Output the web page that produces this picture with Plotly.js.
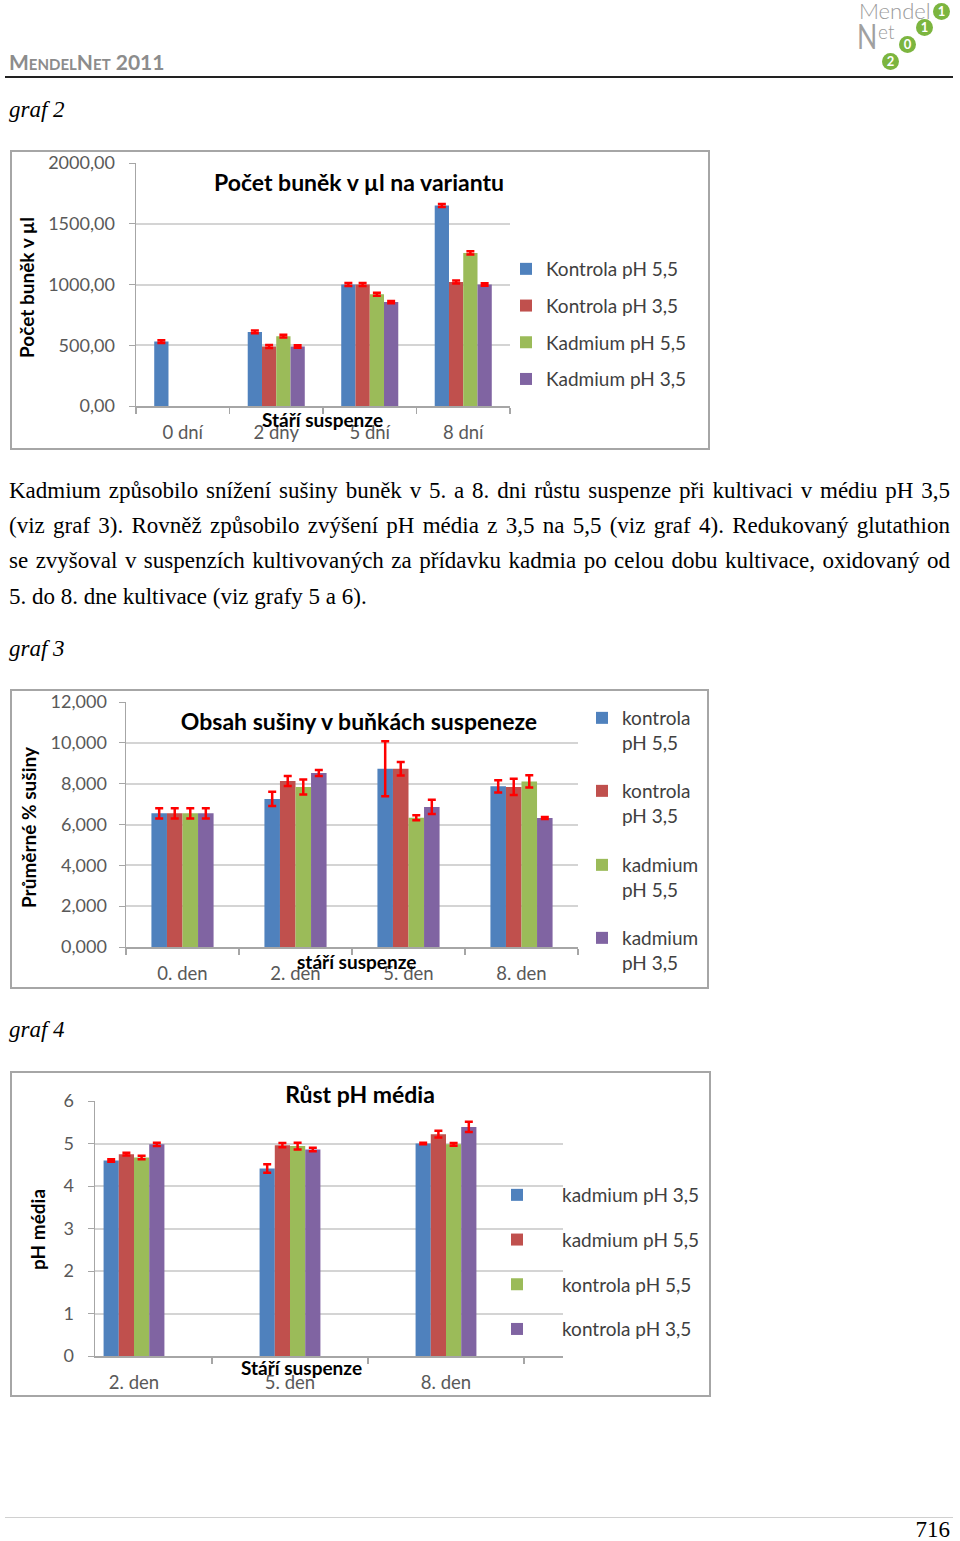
<!DOCTYPE html>
<html><head><meta charset="utf-8">
<script src="https://cdn.plot.ly/plotly-3.0.1.min.js"></script>
<style>
body{margin:0;width:960px;height:1541px;position:relative;background:#fff;overflow:hidden;font-family:'Liberation Serif','Times New Roman',serif;color:#000;}
.abs{position:absolute;white-space:nowrap;}
.frame{position:absolute;border:2px solid #a6a6a6;box-sizing:border-box;pointer-events:none;}
.para{position:absolute;left:9px;width:941px;font-size:23px;line-height:26px;text-align:justify;text-align-last:justify;white-space:nowrap;}
.graf{position:absolute;left:9px;font-size:23px;line-height:26px;font-style:italic;}
.circ{position:absolute;width:17px;height:17px;border-radius:50%;background:#7cb53f;color:#fff;font:bold 13px Lato,sans-serif;line-height:17px;text-align:center;}
</style></head><body>

<div class="abs" style="left:9px;top:50px;font:bold 21px Lato,sans-serif;font-variant:small-caps;color:#8c8c8c;line-height:24px;">MendelNet 2011</div>
<div class="abs" style="left:5px;top:76px;width:948px;height:2px;background:#222;"></div>

<div class="abs" style="left:859px;top:-1px;font:300 22px Lato,sans-serif;color:#9a9a9a;line-height:24px;">Mendel</div>
<div class="circ" style="left:933px;top:3px;">1</div>
<div class="abs" style="left:857px;top:19px;font:400 34px Lato,sans-serif;color:#a0a0a0;line-height:34px;transform:scaleX(0.78);transform-origin:left top;">N</div>
<div class="abs" style="left:878px;top:22px;font:300 19px Lato,sans-serif;color:#9a9a9a;line-height:20px;">et</div>
<div class="circ" style="left:916px;top:19px;">1</div>
<div class="circ" style="left:899px;top:36px;">0</div>
<div class="circ" style="left:882px;top:53px;">2</div>

<div class="graf" style="top:97px;">graf 2</div>
<div id="g2" class="abs" style="left:10px;top:150px;width:700px;height:300px;"></div>
<div class="frame" style="left:10px;top:150px;width:700px;height:300px;"></div>

<div class="para" style="top:478px;">Kadmium způsobilo snížení sušiny buněk v 5. a 8. dni růstu suspenze při kultivaci v médiu pH 3,5</div>
<div class="para" style="top:513px;">(viz graf 3). Rovněž způsobilo zvýšení pH média z 3,5 na 5,5 (viz graf 4). Redukovaný glutathion</div>
<div class="para" style="top:548px;">se zvyšoval v suspenzích kultivovaných za přídavku kadmia po celou dobu kultivace, oxidovaný od</div>
<div class="para" style="top:584px;text-align:left;text-align-last:left;">5. do 8. dne kultivace (viz grafy 5 a 6).</div>

<div class="graf" style="top:636px;">graf 3</div>
<div id="g3" class="abs" style="left:10px;top:689px;width:699px;height:300px;"></div>
<div class="frame" style="left:10px;top:689px;width:699px;height:300px;"></div>

<div class="graf" style="top:1017px;">graf 4</div>
<div id="g4" class="abs" style="left:10px;top:1071px;width:701px;height:326px;"></div>
<div class="frame" style="left:10px;top:1071px;width:701px;height:326px;"></div>

<div class="abs" style="left:5px;top:1517px;width:948px;height:1px;background:#d0d0d0;"></div>
<div class="abs" style="left:880px;top:1517px;width:70px;text-align:right;font-size:23px;line-height:26px;">716</div>

<script>
// ---------- graf 2 data ----------
const cats2 = ['0 dní', '2 dny', '5 dní', '8 dní'];
const names2 = ['Kontrola pH 5,5', 'Kontrola pH 3,5', 'Kadmium pH 5,5', 'Kadmium pH 3,5'];
const kontrola55_2 = [530, 610, 1000, 1650];
const kontrola35_2 = [null, 490, 1000, 1020];
const kadmium55_2 = [null, 575, 920, 1260];
const kadmium35_2 = [null, 490, 855, 1000];
const err_k55_2 = [12, 12, 12, 12];
const err_k35_2 = [null, 12, 12, 12];
const err_c55_2 = [null, 12, 12, 14];
const err_c35_2 = [null, 10, 10, 10];
const yTicks2 = [0, 500, 1000, 1500, 2000];

// ---------- graf 3 data ----------
const cats3 = ['0. den', '2. den', '5. den', '8. den'];
const names3 = ['kontrola<br>pH 5,5', 'kontrola<br>pH 3,5', 'kadmium<br>pH 5,5', 'kadmium<br>pH 3,5'];
const kontrola55_3 = [6.55, 7.25, 8.73, 7.87];
const kontrola35_3 = [6.55, 8.13, 8.73, 7.84];
const kadmium55_3 = [6.55, 7.84, 6.33, 8.11];
const kadmium35_3 = [6.55, 8.52, 6.86, 6.32];
const err_k55_3 = [0.25, 0.35, 1.35, 0.30];
const err_k35_3 = [0.25, 0.25, 0.33, 0.40];
const err_c55_3 = [0.25, 0.37, 0.12, 0.30];
const err_c35_3 = [0.25, 0.15, 0.35, 0.05];
const yTicks3 = [0, 2, 4, 6, 8, 10, 12];

// ---------- graf 4 data ----------
const cats4 = ['2. den', '5. den', '8. den'];
const names4 = ['kadmium pH 3,5', 'kadmium pH 5,5', 'kontrola pH 5,5', 'kontrola pH 3,5'];
const kadmium35_4 = [4.60, 4.41, 5.00];
const kadmium55_4 = [4.75, 4.96, 5.22];
const kontrola55_4 = [4.67, 4.94, 4.98];
const kontrola35_4 = [4.98, 4.86, 5.39];
const err_c35_4 = [0.03, 0.10, 0.02];
const err_c55_4 = [0.03, 0.05, 0.08];
const err_k55_4 = [0.04, 0.08, 0.03];
const err_k35_4 = [0.04, 0.04, 0.12];
const yTicks4 = [0, 1, 2, 3, 4, 5, 6];

const COLORS = ['#4f81bd', '#c0504d', '#9bbb59', '#8064a2'];
const FONT = 'Lato, "Open Sans", Arial, sans-serif';
const TICKCOL = '#595959';

function bar(name, x, y, e, color, legendId) {
  const t = {
    type: 'bar', name: name, x: x, y: y, legendgroup: name,
    marker: {color: color, line: {width: 0}},
    error_y: {type: 'data', array: e, visible: true, color: '#ff0000', thickness: 2.5, width: 4},
    hoverinfo: 'skip'
  };
  if (legendId) t.legend = legendId;
  return t;
}
function px(c, x, y) {
  return {x: (x - c.m.l) / (c.W - c.m.l - c.m.r), y: 1 - (y - c.m.t) / (c.H - c.m.t - c.m.b)};
}
function ann(c, text, x, y, opts) {
  const p = px(c, x, y);
  return Object.assign({xref: 'paper', yref: 'paper', x: p.x, y: p.y, xanchor: 'center', yanchor: 'middle',
    text: '<b>' + text + '</b>', showarrow: false, font: {family: FONT, size: 19, color: '#000'}}, opts || {});
}
function legendAt(c, x, y, extra) {
  const lp = px(c, x, y);
  return Object.assign({xref: 'paper', yref: 'paper', x: lp.x, y: lp.y, xanchor: 'left', yanchor: 'top',
    bgcolor: 'rgba(0,0,0,0)', font: {family: FONT, size: 19, color: '#404040'}, traceorder: 'grouped'}, extra || {});
}
function baseLayout(c, o) {
  return {
    width: c.W, height: c.H, margin: Object.assign({autoexpand: false}, c.m),
    paper_bgcolor: '#fff', plot_bgcolor: '#fff',
    separators: ',.',
    barmode: 'group', bargap: o.bargap, bargroupgap: 0,
    font: {family: FONT, size: 18, color: TICKCOL},
    title: {text: '<b>' + o.title + '</b>', xref: 'container', yref: 'container',
      x: o.tx / c.W, y: 1 - o.ty / c.H, xanchor: 'center', yanchor: 'middle',
      font: {family: FONT, size: 23, color: '#000'}},
    xaxis: {type: 'category', showline: true, linecolor: '#a6a6a6', linewidth: 1.5,
      ticks: 'outside', tickson: 'boundaries', ticklen: 6, tickcolor: '#a6a6a6', tickwidth: 1.5,
      ticklabelstandoff: 9, showgrid: false, zeroline: false, fixedrange: true,
      tickfont: {family: FONT, size: 18.5, color: TICKCOL}, range: o.xrange},
    yaxis: {range: o.yrange, tickvals: o.yticks, tickformat: o.fmt, showline: true,
      linecolor: '#a6a6a6', linewidth: 1.5, ticks: 'outside', ticklen: 6, tickcolor: '#a6a6a6',
      ticklabelstandoff: o.ystandoff || 10, showgrid: true, gridcolor: '#d4d4d4', gridwidth: 2, zeroline: false,
      tickfont: {family: FONT, size: 18, color: TICKCOL}},
    showlegend: true,
    annotations: o.annotations
  };
}
const cfg = {staticPlot: true, displayModeBar: false};

// ---- graf 2 ----
const c2 = {W: 700, H: 300, m: {l: 126, r: 200, t: 13, b: 44, pad: 0}};
const lay2 = baseLayout(c2, {
  bargap: 0.39, title: 'Počet buněk v µl na variantu', tx: 349, ty: 33,
  yrange: [0, 2000], yticks: yTicks2, fmt: '.2f',
  annotations: [
    ann(c2, 'Počet buněk v µl', 16, 138, {textangle: -90}),
    ann(c2, 'Stáří suspenze', 312, 269)
  ]
});
lay2.legend = legendAt(c2, 496, 100, {tracegroupgap: 9});
Plotly.newPlot('g2', [
  bar(names2[0], cats2, kontrola55_2, err_k55_2, COLORS[0]),
  bar(names2[1], cats2, kontrola35_2, err_k35_2, COLORS[1]),
  bar(names2[2], cats2, kadmium55_2, err_c55_2, COLORS[2]),
  bar(names2[3], cats2, kadmium35_2, err_c35_2, COLORS[3])
], lay2, cfg);

// ---- graf 3 ----
const c3 = {W: 699, H: 300, m: {l: 116, r: 131, t: 13, b: 42, pad: 0}};
const lay3 = baseLayout(c3, {
  bargap: 0.45, title: 'Obsah sušiny v buňkách suspeneze', tx: 349, ty: 33,
  yrange: [0, 12], yticks: yTicks3, fmt: '.3f', ystandoff: 8,
  annotations: [
    ann(c3, 'Průměrné % sušiny', 18, 138, {textangle: -90}),
    ann(c3, 'stáří suspenze', 346, 272)
  ]
});
lay3.legend = legendAt(c3, 572, 10, {valign: 'top'});
lay3.legend2 = legendAt(c3, 572, 83, {valign: 'top'});
lay3.legend3 = legendAt(c3, 572, 157, {valign: 'top'});
lay3.legend4 = legendAt(c3, 572, 230, {valign: 'top'});
Plotly.newPlot('g3', [
  bar(names3[0], cats3, kontrola55_3, err_k55_3, COLORS[0], 'legend'),
  bar(names3[1], cats3, kontrola35_3, err_k35_3, COLORS[1], 'legend2'),
  bar(names3[2], cats3, kadmium55_3, err_c55_3, COLORS[2], 'legend3'),
  bar(names3[3], cats3, kadmium35_3, err_c35_3, COLORS[3], 'legend4')
], lay3, cfg);

// ---- graf 4 ----
const c4 = {W: 701, H: 326, m: {l: 85, r: 148, t: 30, b: 41, pad: 0}};
const lay4 = baseLayout(c4, {
  bargap: 0.61, title: 'Růst pH média', tx: 350, ty: 24,
  yrange: [0, 6], yticks: yTicks4, fmt: 'd', xrange: [-0.25, 2.75],
  annotations: [
    ann(c4, 'pH média', 27, 159, {textangle: -90}),
    ann(c4, 'Stáří suspenze', 291, 296)
  ]
});
lay4.legend = legendAt(c4, 462, 105, {tracegroupgap: 17, itemwidth: 80});
Plotly.newPlot('g4', [
  bar(names4[0], cats4, kadmium35_4, err_c35_4, COLORS[0]),
  bar(names4[1], cats4, kadmium55_4, err_c55_4, COLORS[1]),
  bar(names4[2], cats4, kontrola55_4, err_k55_4, COLORS[2]),
  bar(names4[3], cats4, kontrola35_4, err_k35_4, COLORS[3])
], lay4, cfg);
</script>
</body></html>
